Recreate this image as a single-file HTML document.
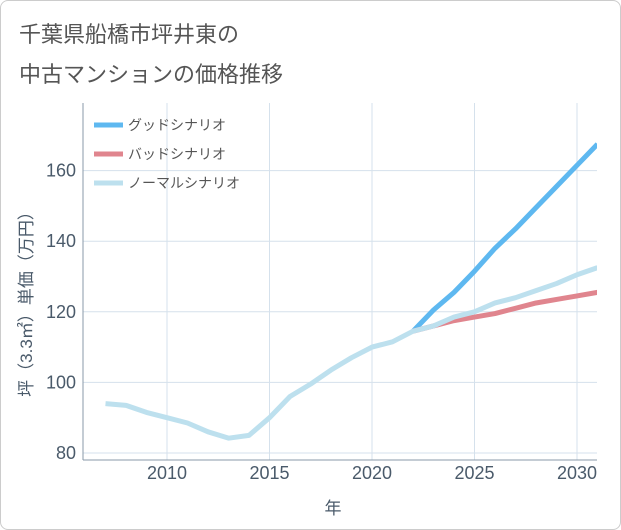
<!DOCTYPE html>
<html><head><meta charset="utf-8"><style>
body{margin:0;background:#fff;}
#wrap{position:relative;width:619px;height:528px;border:1px solid #ccc;border-radius:8px;overflow:hidden;font-family:"Liberation Sans","Noto Sans CJK JP",sans-serif;}
.t{position:absolute;left:18px;font-size:22px;color:#555;}
</style></head><body>
<div id="wrap">
<div class="t" style="top:16px">千葉県船橋市坪井東の</div>
<div class="t" style="top:56px">中古マンションの価格推移</div>
<svg id="c" width="621" height="530" style="position:absolute;left:-1px;top:-1px"></svg>
</div>
<script>
const years=[2007,2008,2009,2010,2011,2012,2013,2014,2015,2016,2017,2018,2019,2020,2021,2022,2023,2024,2025,2026,2027,2028,2029,2030,2031];
const normal=[94,93.5,91.5,90,88.5,86,84.2,85,90,96,99.5,103.5,107,110,111.5,114.5,116,118.5,120,122.5,124,126,128,130.5,132.5];
const goodYears=[2022,2023,2024,2025,2026,2027,2028,2029,2030,2031];
const good=[114.5,120.5,125.5,131.5,138,143.5,149.5,155.5,161.5,167.5];
const bad=[114.5,116,117.5,118.5,119.5,121,122.5,123.5,124.5,125.5];
const xTicks=[2010,2015,2020,2025,2030];
const yTicks=[80,100,120,140,160];
const L=83,R=597,T=103,B=460;
const X=y=>167+(y-2010)*20.5;
const Y=v=>453-(v-80)*3.53;
const svg=document.getElementById('c');
const NS='http://www.w3.org/2000/svg';
function mk(tag,a){const e=document.createElementNS(NS,tag);for(const k in a)e.setAttribute(k,a[k]);svg.appendChild(e);return e;}
xTicks.forEach(t=>{const l=mk('line',{x1:X(t),x2:X(t),y1:T,y2:B,stroke:'#d5e1ec','stroke-width':1});

const tx=mk('text',{x:X(t),y:479,'text-anchor':'middle','font-size':18,fill:'#4a5a6a'});tx.textContent=t;
});
yTicks.forEach(t=>{const l=mk('line',{x1:L,x2:R,y1:Y(t),y2:Y(t),stroke:'#d5e1ec','stroke-width':1});

const tx=mk('text',{x:76,y:Y(t)+6,'text-anchor':'end','font-size':18,fill:'#4a5a6a'});tx.textContent=t;
});
const ax=mk('line',{x1:L,x2:L,y1:T,y2:B,stroke:'#8a9aa8','stroke-width':1});

const bx=mk('line',{x1:L,x2:R,y1:B,y2:B,stroke:'#8a9aa8','stroke-width':1});

function line(xs,vs,col,name){const p=mk('polyline',{points:xs.map((y,i)=>X(y)+','+Y(vs[i])).join(' '),fill:'none',stroke:col,'stroke-width':5,'stroke-linejoin':'round'});
}
const cp=mk('clipPath',{id:'cp'});const r=document.createElementNS(NS,'rect');r.setAttribute('x',L);r.setAttribute('y',T);r.setAttribute('width',R-L);r.setAttribute('height',B-T);cp.appendChild(r);
line(goodYears,good,'#5eb8f0','good-scenario-line');
line(goodYears,bad,'#e0858e','bad-scenario-line');
line(years,normal,'#bde0ee','normal-scenario-line');
svg.querySelectorAll('polyline').forEach(p=>p.setAttribute('clip-path','url(#cp)'));
const leg=[['グッドシナリオ','#5eb8f0',125],['バッドシナリオ','#e0858e',154],['ノーマルシナリオ','#bde0ee',183]];
leg.forEach(([n,c,y])=>{const l=mk('line',{x1:94,x2:123,y1:y,y2:y,stroke:c,'stroke-width':5});

const t=mk('text',{x:128,y:y+5,'font-size':14,fill:'#555'});t.textContent=n;
});
const xt=mk('text',{x:333,y:514,'text-anchor':'middle','font-size':17,fill:'#4a5a6a'});xt.textContent='年';

const yt=mk('text',{x:0,y:0,'text-anchor':'middle','font-size':17,fill:'#4a5a6a',transform:'translate(32,300) rotate(-90)'});yt.textContent='坪（3.3㎡）単価（万円）';

</script>
</body></html>
